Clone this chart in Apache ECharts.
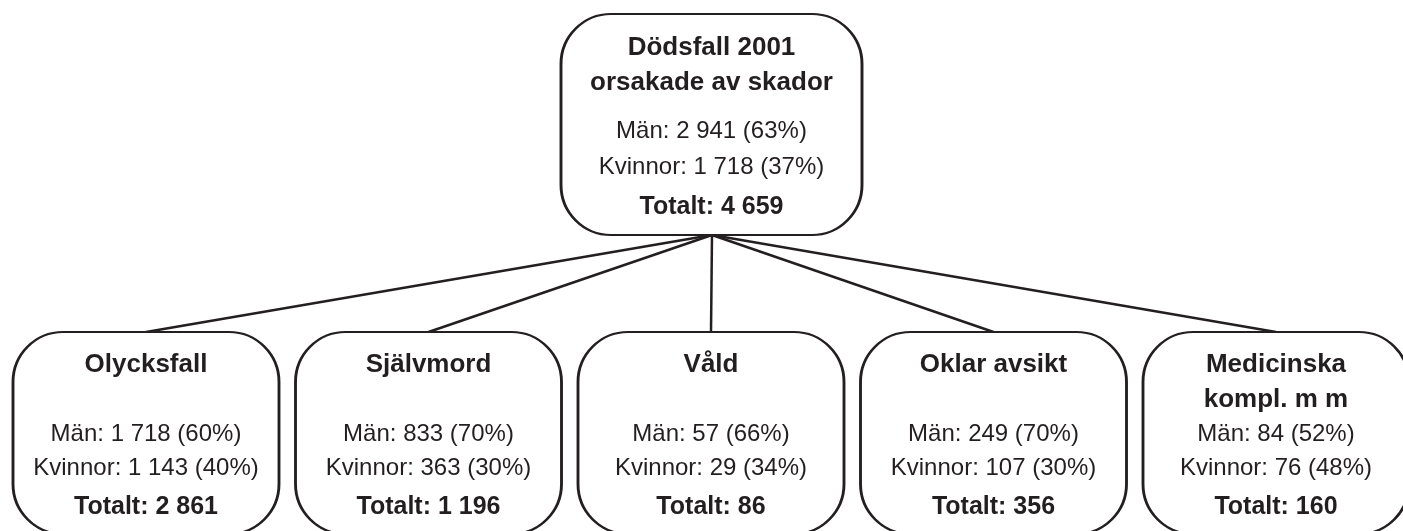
<!DOCTYPE html>
<html lang="sv">
<head>
    <meta charset="UTF-8">
    <title>Dödsfall 2001 orsakade av skador</title>
    <style>
        html, body { margin: 0; padding: 0; background: #fff; }
    </style>
</head>
<body>
<div id="main" style="width: 1403px;height:531px;"></div>

<script src="https://cdn.jsdelivr.net/npm/echarts@6/dist/echarts.min.js"></script>

<script type="text/javascript">
    // data
    var rootTitle = ['Dödsfall 2001', 'orsakade av skador'];
    var rootMen = 2941, rootMenPct = 63;
    var rootWomen = 1718, rootWomenPct = 37;
    var rootTotal = 4659;

    var categories = [['Olycksfall'], ['Självmord'], ['Våld'], ['Oklar avsikt'], ['Medicinska', 'kompl. m m']];
    var men = [1718, 833, 57, 249, 84];
    var menPct = [60, 70, 66, 70, 52];
    var women = [1143, 363, 29, 107, 76];
    var womenPct = [40, 30, 34, 30, 48];
    var totals = [2861, 1196, 86, 356, 160];

    var ink = '#231f20';
    var font = '"Liberation Sans", Arial, Helvetica, sans-serif';

    // 2 941 style numbers
    function fmt(n) {
        return String(n).replace(/\B(?=(\d{3})+(?!\d))/g, ' ');
    }

    // rounded rectangle as a path symbol
    function roundRect(w, h, r) {
        var k = r * 0.5523;
        return 'path://M' + r + ',0' +
            'L' + (w - r) + ',0' +
            'C' + (w - r + k) + ',0 ' + w + ',' + (r - k) + ' ' + w + ',' + r +
            'L' + w + ',' + (h - r) +
            'C' + w + ',' + (h - r + k) + ' ' + (w - r + k) + ',' + h + ' ' + (w - r) + ',' + h +
            'L' + r + ',' + h +
            'C' + (r - k) + ',' + h + ' 0,' + (h - r + k) + ' 0,' + (h - r) +
            'L0,' + r +
            'C0,' + (r - k) + ' ' + (r - k) + ',0 ' + r + ',0Z';
    }

    // layout
    var rootX = 711.5, rootY = 124.5, rootW = 301, rootH = 221;
    var childX0 = 146, childStep = 282.5, childY = 433, childW = 266, childH = 202;
    var radius = 50;

    var nodes = [];
    var links = [];

    nodes.push({
        name: 'root',
        value: [rootX, rootY],
        symbol: roundRect(rootW, rootH, radius),
        symbolSize: [rootW, rootH],
        label: {
            show: true,
            position: 'inside',
            offset: [0, 5],
            formatter: [
                '{h|' + rootTitle[0] + '}',
                '{h|' + rootTitle[1] + '}',
                '{sp| }',
                '{v|Män: ' + fmt(rootMen) + ' (' + rootMenPct + '%)}',
                '{v|Kvinnor: ' + fmt(rootWomen) + ' (' + rootWomenPct + '%)}',
                '{t|Totalt: ' + fmt(rootTotal) + '}'
            ].join('\n'),
            rich: {
                h: { fontSize: 26, fontWeight: 'bold', lineHeight: 35, color: ink, fontFamily: font },
                sp: { fontSize: 10, lineHeight: 13 },
                v: { fontSize: 24, lineHeight: 36, color: ink, fontFamily: font },
                t: { fontSize: 25, fontWeight: 'bold', lineHeight: 43, color: ink, fontFamily: font }
            }
        }
    });
    // anchor under the root box
    nodes.push({ name: 'rootAnchor', value: [712, rootY + rootH / 2], symbol: 'none', label: { show: false } });

    for (var i = 0; i < categories.length; i++) {
        var cx = childX0 + i * childStep;
        var title = categories[i];
        nodes.push({
            name: 'c' + i,
            value: [cx, childY],
            symbol: roundRect(childW, childH, radius),
            symbolSize: [childW, childH],
            label: {
                show: true,
                position: 'inside',
                offset: [0, 5],
                formatter: [
                    '{h|' + title[0] + '}',
                    '{h|' + (title[1] || ' ') + '}',
                    '{m|Män: ' + fmt(men[i]) + ' (' + menPct[i] + '%)}',
                    '{k|Kvinnor: ' + fmt(women[i]) + ' (' + womenPct[i] + '%)}',
                    '{t|Totalt: ' + fmt(totals[i]) + '}'
                ].join('\n'),
                rich: {
                    h: { fontSize: 26, fontWeight: 'bold', lineHeight: 35, color: ink, fontFamily: font },
                    m: { fontSize: 24, lineHeight: 33, color: ink, fontFamily: font },
                    k: { fontSize: 24, lineHeight: 36, color: ink, fontFamily: font },
                    t: { fontSize: 25, fontWeight: 'bold', lineHeight: 42, color: ink, fontFamily: font }
                }
            }
        });
        nodes.push({ name: 'a' + i, value: [cx, childY - childH / 2], symbol: 'none', label: { show: false } });
        links.push({ source: 'rootAnchor', target: 'a' + i });
    }

    var myChart = echarts.init(document.getElementById('main'));

    var option = {
        animation: false,
        grid: { left: 0, right: 0, top: 0, bottom: 0 },
        xAxis: { type: 'value', min: 0, max: 1403, show: false },
        yAxis: { type: 'value', min: 0, max: 531, inverse: true, show: false },
        series: [{
            type: 'graph',
            coordinateSystem: 'cartesian2d',
            layout: 'none',
            silent: true,
            data: nodes,
            links: links,
            itemStyle: { color: '#fff', borderColor: ink, borderWidth: 2.5 },
            lineStyle: { color: ink, width: 2.5, opacity: 1, curveness: 0 },
            emphasis: { disabled: true }
        }]
    };
    myChart.setOption(option);
</script>
</body>
</html>
